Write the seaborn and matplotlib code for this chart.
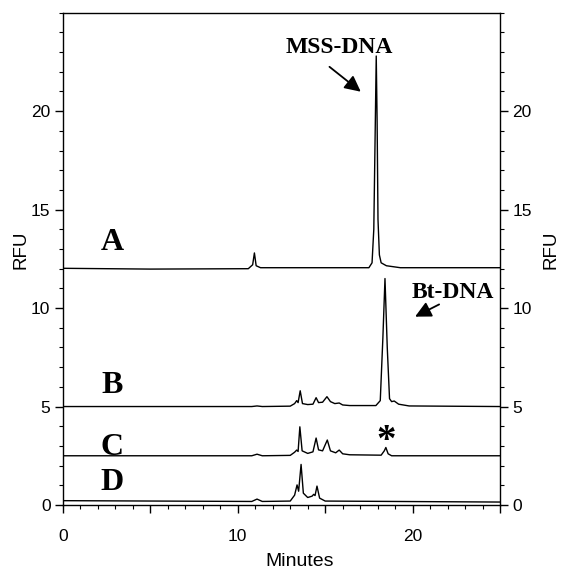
import matplotlib
matplotlib.use("Agg")
import matplotlib.pyplot as plt
from matplotlib.ticker import MultipleLocator, FixedLocator, FixedFormatter
import seaborn as sns
import pandas as pd

# ---- data (vertices of each electropherogram trace) ----
a_x = [0, 5, 10.6, 10.85, 10.95, 11.05, 11.3, 17.5, 17.68, 17.78, 17.86, 17.92, 17.97, 18.02, 18.1, 18.2, 18.5, 19.3, 25]
a_y = [12.02, 11.98, 12.0, 12.2, 12.8, 12.15, 12.05, 12.05, 12.3, 14.0, 19.0, 22.8, 19.5, 14.5, 12.7, 12.3, 12.15, 12.05, 12.05]

b_x = [0, 10.8, 11.1, 11.4, 13.0, 13.25, 13.37, 13.45, 13.57, 13.7, 14.0, 14.3, 14.48, 14.62, 14.85, 15.1, 15.3,
       15.55, 15.8, 16.0, 16.4, 17.9, 18.15, 18.3, 18.42, 18.55, 18.68, 18.8, 18.95, 19.2, 19.8, 25]
b_y = [5.0, 5.0, 5.03, 5.0, 5.02, 5.15, 5.3, 5.2, 5.8, 5.15, 5.1, 5.12, 5.45, 5.2, 5.22, 5.5, 5.25,
       5.15, 5.18, 5.08, 5.05, 5.05, 5.3, 8.5, 11.5, 8.0, 5.4, 5.25, 5.28, 5.12, 5.03, 5.0]

c_x = [0, 10.8, 11.1, 11.4, 13.0, 13.25, 13.37, 13.45, 13.55, 13.68, 14.0, 14.3, 14.48, 14.62, 14.85, 15.12, 15.3,
       15.6, 15.8, 16.0, 16.4, 18.2, 18.38, 18.47, 18.6, 18.8, 25]
c_y = [2.5, 2.5, 2.58, 2.5, 2.52, 2.68, 2.79, 2.72, 3.97, 2.75, 2.62, 2.7, 3.4, 2.8, 2.75, 3.3, 2.75,
       2.65, 2.79, 2.6, 2.55, 2.53, 2.75, 2.92, 2.6, 2.5, 2.5]

d_x = [0, 10.8, 11.1, 11.4, 13.0, 13.25, 13.39, 13.48, 13.62, 13.75, 14.0, 14.25, 14.34, 14.42, 14.53, 14.68, 15.0, 25]
d_y = [0.22, 0.18, 0.3, 0.18, 0.2, 0.5, 1.02, 0.7, 2.06, 0.6, 0.38, 0.45, 0.54, 0.48, 0.96, 0.35, 0.2, 0.15]

trace_labels = ["A", "B", "C", "D"]
trace_label_y = [13.35, 6.05, 2.92, 1.15]
x_tick_values = [0, 5, 10, 15, 20, 25]
x_tick_labels = ["0", "", "10", "", "20", ""]
y_tick_values = [0, 5, 10, 15, 20]

frames = []
for name, xs, ys in zip(trace_labels, [a_x, b_x, c_x, d_x], [a_y, b_y, c_y, d_y]):
    frames.append(pd.DataFrame({"Minutes": xs, "RFU": ys, "trace": name}))
df = pd.concat(frames, ignore_index=True)

sns.set_theme(style="ticks")
plt.rcParams["font.family"] = ["Liberation Sans", "DejaVu Sans"]

W, H = 563, 571
fig = plt.figure(figsize=(W / 100, H / 100), dpi=100)
ax = fig.add_axes([63 / W, 1 - 505 / H, 437 / W, (505 - 12.7) / H])

for name in trace_labels:
    sub = df[df["trace"] == name]
    sns.lineplot(data=sub, x="Minutes", y="RFU", ax=ax, color="black", lw=1.0,
                 sort=False, estimator=None, legend=False)

ax.set_xlim(0, 25)
ax.set_ylim(0, 25)

for s in ax.spines.values():
    s.set_visible(True)
    s.set_color("black")
    s.set_linewidth(1.0)

ax.xaxis.set_major_locator(FixedLocator(x_tick_values))
ax.xaxis.set_major_formatter(FixedFormatter(x_tick_labels))
ax.xaxis.set_minor_locator(MultipleLocator(1))
ax.yaxis.set_major_locator(FixedLocator(y_tick_values))
ax.yaxis.set_minor_locator(MultipleLocator(1))
ax.tick_params(which="major", direction="out", length=6, width=1, color="black",
               labelsize=12.5, labelcolor="black", pad=3)
ax.tick_params(which="minor", direction="out", length=3, width=0.8, color="black")
ax.tick_params(axis="y", which="both", left=True, right=True, labelleft=True, labelright=True)
ax.tick_params(axis="x", which="both", bottom=True, top=False)
ax.tick_params(axis="x", which="major", pad=11)

ax.set_xlabel("")
ax.set_ylabel("")
fig.text(300 / W, 1 - 561 / H, "Minutes", fontsize=14, color="black", ha="center", va="center")
fig.text(21 / W, 1 - 250 / H, "RFU", fontsize=13.5, color="black", ha="center", va="center", rotation=90)
fig.text(551 / W, 1 - 250 / H, "RFU", fontsize=13.5, color="black", ha="center", va="center", rotation=90)

serif = ["Liberation Serif", "DejaVu Serif"]
for lab, yy in zip(trace_labels, trace_label_y):
    ax.text(2.8, yy, lab, fontsize=23, fontweight="bold", family=serif,
            ha="center", va="center", color="black")

ax.text(15.83, 22.95, "MSS-DNA", fontsize=17, fontweight="bold", family=serif,
        ha="center", va="baseline", color="black")
ax.annotate("", xy=(17.16, 20.9), xytext=(15.12, 22.34),
            arrowprops=dict(arrowstyle="-|>", mutation_scale=24, color="black", lw=1.3))
ax.text(22.3, 10.5, "Bt-DNA", fontsize=17, fontweight="bold", family=serif,
        ha="center", va="baseline", color="black")
ax.annotate("", xy=(20.0, 9.5), xytext=(21.66, 10.25),
            arrowprops=dict(arrowstyle="-|>", mutation_scale=24, color="black", lw=1.3))
ax.text(18.5, 3.2, "*", fontsize=28, fontweight="bold", family=serif,
        ha="center", va="center", color="black")

fig.savefig("out.png", dpi=100)
